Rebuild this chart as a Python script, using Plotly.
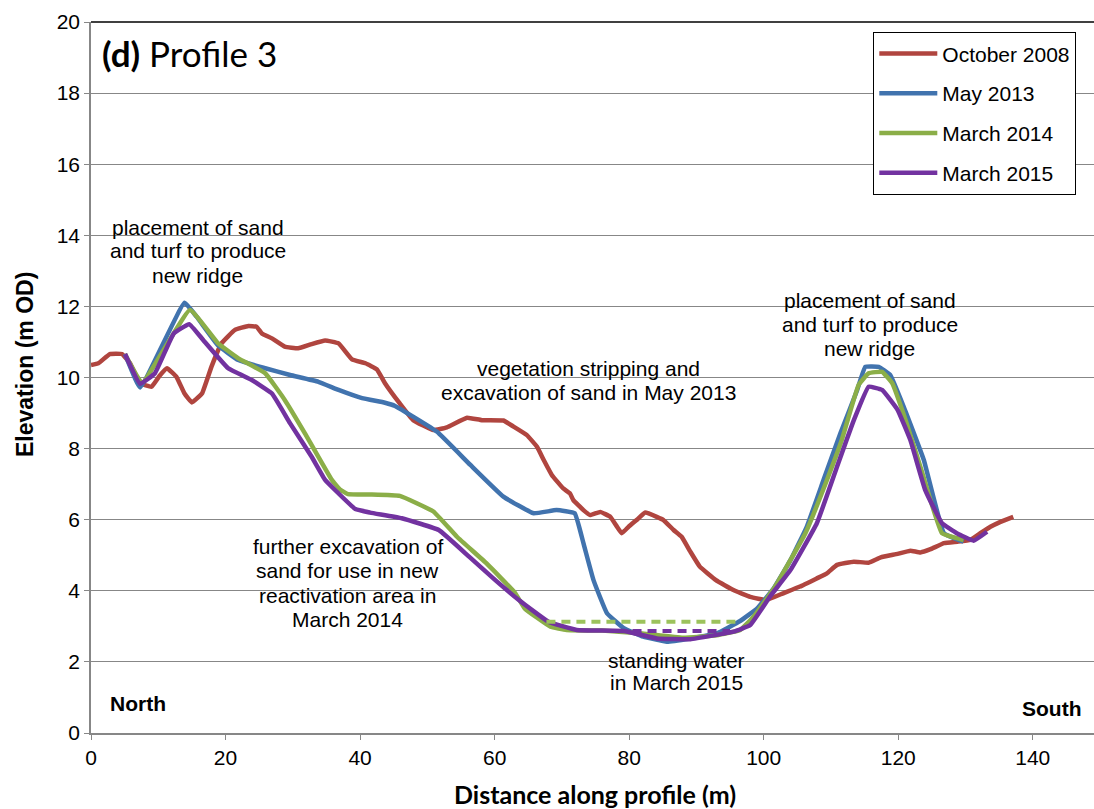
import plotly.graph_objects as go

# ---- data (distance m, elevation m OD) ----
oct2008_x = [0, 1.1, 2.8, 4.6, 5.8, 7.3, 9.0, 10.2, 11.3, 12.7,
             13.9, 15.0, 16.5, 17.9, 19.4, 21.4, 23.4, 24.6, 25.4,
             26.9, 28.8, 30.8, 32.8, 34.8, 36.8, 38.8, 40.8, 42.5, 43.7,
             45.9, 47.9, 50.9, 52.9, 55.9, 58.1, 61.3, 62.8, 64.8, 66.3,
             67.3, 68.5, 70.2, 71.2, 71.7, 73.2, 74.2, 75.7, 77.2, 78.2,
             78.9, 79.9, 81.1, 82.4, 84.1, 85.1, 86.6, 87.8, 89.1, 90.5,
             92.9, 95.5, 98.0, 100.4, 102.9, 105.4, 107.9, 109.4, 110.9, 113.4,
             115.6, 117.4, 119.9, 121.8, 123.3, 124.8, 126.8, 128.8, 130.7, 132.2,
             133.7, 135.2, 137.1]
oct2008_y = [10.35, 10.4, 10.66, 10.66, 10.4, 9.84, 9.74, 10.05, 10.26, 10.02,
             9.55, 9.3, 9.55, 10.3, 10.96, 11.34, 11.45, 11.43, 11.24,
             11.1, 10.87, 10.82, 10.94, 11.04, 10.96, 10.51, 10.4, 10.23, 9.84,
             9.27, 8.8, 8.52, 8.6, 8.87, 8.8, 8.79, 8.62, 8.38, 8.05,
             7.68, 7.26, 6.88, 6.74, 6.55, 6.27, 6.13, 6.22, 6.08, 5.8,
             5.62, 5.8, 5.99, 6.2, 6.08, 5.99, 5.71, 5.52, 5.1, 4.68,
             4.3, 4.02, 3.83, 3.74, 3.93, 4.12, 4.35, 4.49, 4.73, 4.82,
             4.79, 4.94, 5.04, 5.13, 5.08, 5.17, 5.34, 5.38, 5.43, 5.62,
             5.8, 5.94, 6.08]

may2013_x = [5.05, 7.3, 13.9, 15.7, 18.9, 21.9, 25.9, 29.6, 33.8, 36.8,
             40.3, 43.7, 45.2, 51.4, 56.4, 61.3, 65.8, 69.2, 71.9, 73.2,
             74.7, 76.7, 79.2, 82.1, 85.6, 89.1, 93.0, 96.5, 99.0, 101.5,
             104.0, 106.4, 108.9, 111.4, 113.9, 115.1, 117.1, 118.8, 120.8, 123.8,
             126.8, 129.7]
may2013_y = [10.66, 9.72, 12.1, 11.71, 10.9, 10.49, 10.26, 10.07, 9.88, 9.65,
             9.42, 9.29, 9.2, 8.48, 7.54, 6.65, 6.18, 6.27, 6.18, 5.34,
             4.3, 3.37, 2.95, 2.71, 2.57, 2.66, 2.8, 3.15, 3.5, 4.07,
             4.87, 5.8, 7.12, 8.43, 9.65, 10.3, 10.3, 10.07, 9.18, 7.68,
             5.62, 5.38]

mar2014_x = [5.05, 7.6, 14.7, 18.9, 21.9, 25.9, 28.8, 31.8, 35.8, 37.0,
             38.2, 41.5, 45.9, 50.9, 54.4, 58.8, 63.0, 64.5, 68.3, 70.7,
             76.0, 82.0, 88.0, 93.0, 96.5, 98.5, 101.7, 106.2, 109.2, 111.6,
             114.1, 115.6, 117.6, 119.1, 121.1, 123.6, 126.5, 129.7]
mar2014_y = [10.66, 9.85, 11.9, 10.96, 10.54, 10.12, 9.37, 8.43, 7.12, 6.85,
             6.72, 6.71, 6.67, 6.23, 5.52, 4.77, 3.95, 3.5, 2.99, 2.9,
             2.88, 2.8, 2.68, 2.75, 2.9, 3.27, 4.12, 5.62, 7.02, 8.24,
             9.79, 10.12, 10.16, 9.84, 8.8, 7.3, 5.62, 5.43]

mar2015_x = [5.05, 7.3, 9.5, 12.3, 14.6, 16.7, 20.4, 23.9, 26.9, 29.6,
             32.8, 34.8, 36.2, 39.3, 41.5, 46.2, 51.7, 56.2, 60.1, 63.6,
             68.0, 72.2, 79.2, 84.1, 89.1, 95.5, 98.0, 100.9, 104.0, 107.9,
             110.9, 113.4, 115.6, 117.6, 119.9, 121.8, 124.0, 126.5, 128.7, 131.2,
             133.2]
mar2015_y = [10.66, 9.82, 10.12, 11.24, 11.5, 11.05, 10.26, 9.93, 9.55, 8.71,
             7.77, 7.12, 6.85, 6.3, 6.2, 6.04, 5.71, 4.96, 4.3, 3.74,
             3.13, 2.9, 2.87, 2.66, 2.64, 2.85, 3.04, 3.83, 4.59, 5.9,
             7.49, 8.8, 9.74, 9.65, 9.09, 8.24, 6.84, 5.9, 5.62, 5.41,
             5.66]

water2014_x = [67.7, 96.5]
water2014_y = [3.13, 3.13]
water2015_x = [80.5, 95.0]
water2015_y = [2.87, 2.87]

series_names = ["October 2008", "May 2013", "March 2014", "March 2015"]
series_colors = ["#B0453F", "#4173AE", "#8BAE48", "#7232A0"]

x_ticks = [0, 20, 40, 60, 80, 100, 120, 140]
y_ticks = [0, 2, 4, 6, 8, 10, 12, 14, 16, 18, 20]

fig = go.Figure()
xs = [oct2008_x, may2013_x, mar2014_x, mar2015_x]
ys = [oct2008_y, may2013_y, mar2014_y, mar2015_y]
for name, color, x, y in zip(series_names, series_colors, xs, ys):
    fig.add_trace(go.Scatter(x=x, y=y, mode="lines", name=name, legendgroup=name,
                             line=dict(color=color, width=4.5, shape="spline", smoothing=0.3)))

fig.add_trace(go.Scatter(x=water2014_x, y=water2014_y, mode="lines", showlegend=False,
                         line=dict(color="#9CC25C", width=4, dash="9px,6px")))
fig.add_trace(go.Scatter(x=water2015_x, y=water2015_y, mode="lines", showlegend=False,
                         line=dict(color="#7232A0", width=4, dash="9px,6px")))

ARIAL = "Liberation Sans, Arial, sans-serif"
txt = dict(family=ARIAL, size=21, color="black")
cal = dict(family="Lato, Open Sans, sans-serif", color="black")

# annotation lines: (text, x, y)
note_lines = [
    ("placement of sand", 15.9, 14.23), ("and turf to produce", 15.9, 13.56), ("new ridge", 15.9, 12.88),
    ("vegetation stripping and", 73.9, 10.25), ("excavation of sand in May 2013", 73.9, 9.575),
    ("placement of sand", 115.8, 12.17), ("and turf to produce", 115.8, 11.49), ("new ridge", 115.8, 10.82),
    ("further excavation of", 38.2, 5.24), ("sand for use in new", 38.2, 4.56),
    ("reactivation area in", 38.2, 3.86), ("March 2014", 38.2, 3.20),
    ("standing water", 87.1, 2.05), ("in March 2015", 87.1, 1.415),
]
annotations = [dict(x=x, y=y, xref="x", yref="y", text=t, showarrow=False, font=txt)
               for t, x, y in note_lines]
annotations += [
    dict(x=2.48, y=0.835, xref="x", yref="y", text="<b>North</b>", showarrow=False, font=txt,
         xanchor="left"),
    dict(x=147.5, y=0.70, xref="x", yref="y", text="<b>South</b>", showarrow=False, font=txt,
         xanchor="right"),
    dict(x=1.34, y=19.12, xref="x", yref="y", text="<b>(d)</b> Profile 3", showarrow=False,
         font=dict(cal, size=35), xanchor="left"),
    dict(x=(595 - 91) / 1003, y=(733 - 797) / 711, xref="paper", yref="paper", yshift=-14,
         text="<b>Distance along profile (m)</b>", showarrow=False, font=dict(cal, size=25)),
    dict(x=(24 - 91) / 1003, y=(733 - 365) / 711, xref="paper", yref="paper", xshift=-14,
         text="<b>Elevation (m OD)</b>", showarrow=False, font=dict(family=ARIAL, size=23, color="black"),
         textangle=-90),
]

fig.update_layout(
    width=1094, height=809,
    margin=dict(l=91, r=0, t=22, b=76),
    plot_bgcolor="white", paper_bgcolor="white",
    showlegend=True,
    legend=dict(x=(873 - 91) / 1003, y=(733 - 32) / 711, xanchor="left", yanchor="top",
                bordercolor="black", borderwidth=1.3, bgcolor="white",
                font=txt, tracegroupgap=9.5, itemwidth=58),
    annotations=annotations,
    shapes=[dict(type="line", xref="paper", yref="paper", x0=0, x1=1, y0=1, y1=1,
                 line=dict(color="black", width=1.5))],
)
fig.update_xaxes(range=[0, 149.1], tickvals=x_ticks, ticktext=[str(v) for v in x_ticks],
                 showgrid=False, showline=True, linecolor="#878787", linewidth=1.5,
                 ticks="outside", ticklen=5, tickcolor="#878787", tickfont=txt, zeroline=False)
fig.update_yaxes(range=[0, 20], tickvals=y_ticks, ticktext=[str(v) for v in y_ticks],
                 showgrid=True, gridcolor="#878787", gridwidth=1.3,
                 showline=True, linecolor="#878787", linewidth=1.5,
                 ticks="outside", ticklen=5, tickcolor="#878787", tickfont=txt, zeroline=False)

fig.write_html("out.html", config={"displayModeBar": False},
               post_script="document.body.style.margin='0';")
